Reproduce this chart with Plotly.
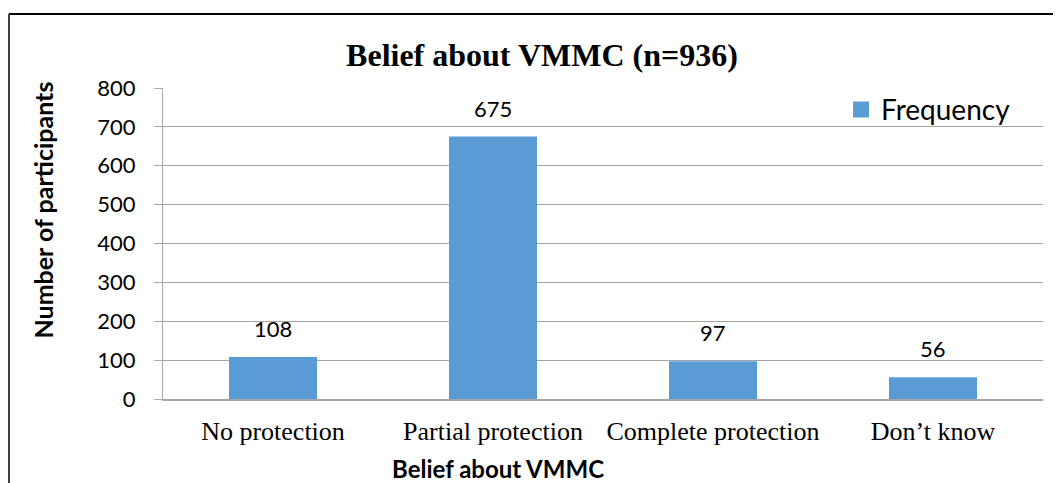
import plotly.graph_objects as go

# belief categories and counts
categories = ["No protection", "Partial protection", "Complete protection", "Don\u2019t know"]
frequency = [108, 675, 97, 56]
y_ticks = [0, 100, 200, 300, 400, 500, 600, 700, 800]

bar_color = "#5B9BD5"
grid_color = "#A6A6A6"
sans = "Lato, Calibri, sans-serif"
serif = "Liberation Serif, Times New Roman, serif"

# page has an 8px body margin, so the figure is drawn 8px smaller
W, H = 1053, 475
L, R, T, B = 155, 18, 80, 84
pw, ph = W - L - R, H - T - B

fig = go.Figure()
fig.add_trace(go.Bar(x=categories, y=frequency, name="Frequency", showlegend=False,
                     marker=dict(color=bar_color, line=dict(width=0)),
                     width=0.4))
# legend entry with a larger square swatch
fig.add_trace(go.Scatter(x=[None], y=[None], mode="markers", name="Frequency",
                         marker=dict(symbol="square", size=17, color=bar_color)))

# data labels above bars
for c, v in zip(categories, frequency):
    fig.add_annotation(x=c, y=v, text=str(v), showarrow=False,
                       yanchor="bottom", yshift=13,
                       font=dict(family=sans, size=22, color="black"))

# axis titles
fig.add_annotation(text="<b>Number of participants</b>", textangle=-90,
                   xref="paper", yref="paper", x=(34 - L) / pw, y=(H - B - 201.5) / ph,
                   showarrow=False, xanchor="center", yanchor="middle",
                   font=dict(family=sans, size=25, color="black"))
fig.add_annotation(text="<b>Belief about VMMC</b>",
                   xref="paper", yref="paper", x=(490 - L) / pw, y=(H - B - 460) / ph,
                   showarrow=False, xanchor="center", yanchor="middle",
                   font=dict(family=sans, size=24, color="black"))

fig.update_layout(
    width=W, height=H,
    margin=dict(l=L, r=R, t=T, b=B),
    paper_bgcolor="white", plot_bgcolor="white",
    title=dict(text="<b>Belief about VMMC (n=936)</b>", x=534 / W, xanchor="center",
               y=1 - 47 / H, yanchor="middle",
               font=dict(family=serif, size=32, color="black")),
    showlegend=True,
    legend=dict(x=0.7705, y=0.93, xanchor="left", yanchor="middle",
                font=dict(family=sans, size=28, color="black"),
                bgcolor="rgba(0,0,0,0)"),
    bargap=0.6,
)

fig.update_xaxes(
    automargin=False,
    showline=True, linecolor=grid_color, linewidth=1.5,
    ticks="", showgrid=False,
    tickfont=dict(family=serif, size=26, color="black"),
    ticklabelstandoff=8,
)

fig.update_yaxes(
    automargin=False,
    range=[0, 800], tickvals=y_ticks,
    showgrid=True, gridcolor=grid_color, gridwidth=1.2,
    showline=True, linecolor=grid_color, linewidth=1.2,
    ticks="outside", ticklen=8, tickcolor=grid_color,
    tickfont=dict(family=sans, size=22, color="black"),
    ticklabelstandoff=14,
    zeroline=False,
)

# outer frame (top and left edges visible)
fig.add_shape(type="line", xref="paper", yref="paper",
              x0=(1 - L) / pw, x1=(W - L) / pw,
              y0=(H - B - 6) / ph, y1=(H - B - 6) / ph,
              line=dict(color="black", width=2))
fig.add_shape(type="line", xref="paper", yref="paper",
              x0=(1 - L) / pw, x1=(1 - L) / pw,
              y0=(H - B - 6) / ph, y1=-B / ph,
              line=dict(color="#404040", width=2))

fig.write_html("out.html")
